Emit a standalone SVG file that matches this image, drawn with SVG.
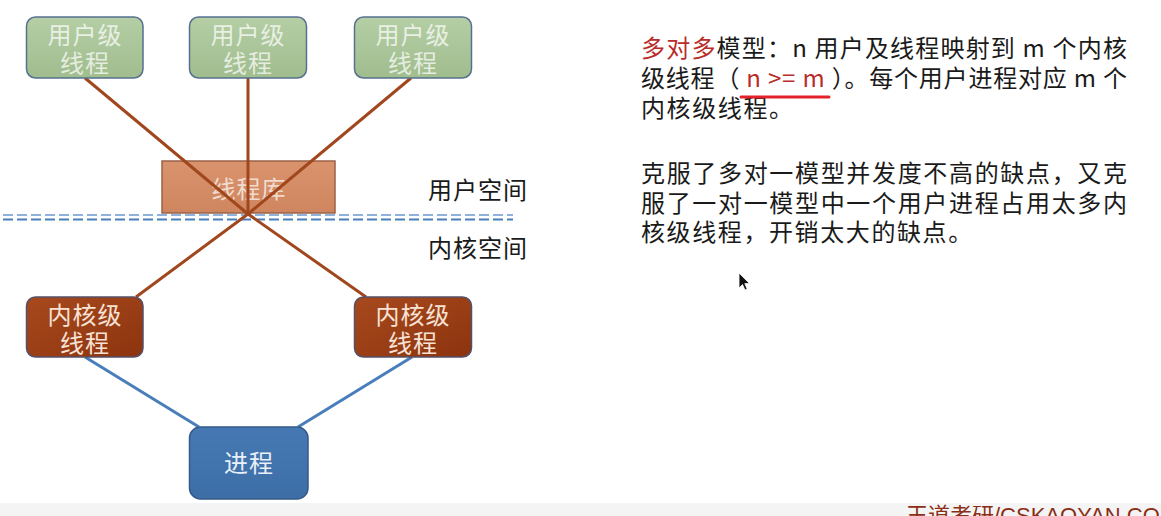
<svg xmlns="http://www.w3.org/2000/svg" width="1161" height="516" viewBox="0 0 1161 516">
  <style>
    .box-text { font-family: "Noto Sans CJK SC", "Noto Sans", sans-serif; font-size: 24px; text-anchor: middle; letter-spacing: 1px; }
    .green-text { fill: #ffffff; fill-opacity: 0.72; }
    .kernel-text { fill: #f8e2d6; }
    .proc-text { fill: #e9f0f8; }
    .label { font-family: "Noto Sans CJK SC", "Noto Sans", sans-serif; font-size: 24px; fill: #1a1a1a; letter-spacing: 1px; }
    .body { font-family: "Noto Sans CJK SC", "Noto Sans", sans-serif; font-size: 24px; fill: #1a1a1a; }
    .red { fill: #b82c2a; }
    .thread-line { stroke: #a0471d; stroke-width: 3; fill: none; }
    .proc-line { stroke: #4a7ebb; stroke-width: 3; fill: none; }
  </style>
  <defs>
    <linearGradient id="gGreen" x1="0" y1="0" x2="0" y2="1">
      <stop offset="0" stop-color="#b5cea5"/>
      <stop offset="1" stop-color="#a0bd8e"/>
    </linearGradient>
    <linearGradient id="gLib" x1="0" y1="0" x2="0" y2="1">
      <stop offset="0" stop-color="#d9936d"/>
      <stop offset="1" stop-color="#cf865f"/>
    </linearGradient>
    <linearGradient id="gKernel" x1="0" y1="0" x2="1" y2="1">
      <stop offset="0" stop-color="#a8491d"/>
      <stop offset="1" stop-color="#8c340f"/>
    </linearGradient>
    <linearGradient id="gProc" x1="0" y1="0" x2="0" y2="1">
      <stop offset="0" stop-color="#4679b3"/>
      <stop offset="1" stop-color="#3d6ea6"/>
    </linearGradient>
  </defs>

  <rect x="0" y="0" width="1161" height="516" fill="#ffffff"/>
  <rect x="0" y="503" width="1161" height="13" fill="#f4f4f4"/>

  <g id="thread-library">
    <rect x="162" y="161" width="173" height="52" fill="url(#gLib)" stroke="#9a6248" stroke-width="1.5"/>
    <text class="box-text" x="249" y="198" fill="#ffffff" fill-opacity="0.7">线程库</text>
  </g>

  <g id="boundary">
    <line x1="3" y1="215" x2="513" y2="215" stroke="#8fb2dc" stroke-width="2.2" stroke-dasharray="10 4"/>
    <line x1="3" y1="219.5" x2="513" y2="219.5" stroke="#4a7ebb" stroke-width="2.2" stroke-dasharray="10 4"/>
  </g>

  <g id="connectors">
    <line class="thread-line" x1="85" y1="78" x2="248" y2="214"/>
    <line class="thread-line" x1="248" y1="78" x2="248" y2="214"/>
    <line class="thread-line" x1="411" y1="78" x2="248" y2="214"/>
    <line class="thread-line" x1="248" y1="214" x2="136" y2="297"/>
    <line class="thread-line" x1="248" y1="214" x2="366" y2="297"/>
    <line class="proc-line" x1="85" y1="357" x2="199" y2="427"/>
    <line class="proc-line" x1="412" y1="357" x2="298" y2="427"/>
  </g>

  <g id="user-thread-1">
    <rect x="26.5" y="17" width="116.5" height="61" rx="9" fill="url(#gGreen)" stroke="#56708f" stroke-width="1.5"/>
    <text class="box-text green-text" x="85" y="44">用户级<tspan x="85" dy="28">线程</tspan></text>
  </g>
  <g id="user-thread-2">
    <rect x="189.5" y="17" width="117" height="61" rx="9" fill="url(#gGreen)" stroke="#56708f" stroke-width="1.5"/>
    <text class="box-text green-text" x="248" y="44">用户级<tspan x="248" dy="28">线程</tspan></text>
  </g>
  <g id="user-thread-3">
    <rect x="354.5" y="17" width="117" height="61" rx="9" fill="url(#gGreen)" stroke="#56708f" stroke-width="1.5"/>
    <text class="box-text green-text" x="413" y="44">用户级<tspan x="413" dy="28">线程</tspan></text>
  </g>

  <g id="kernel-thread-1">
    <rect x="26.5" y="297" width="116.5" height="60" rx="9" fill="url(#gKernel)" stroke="#55506a" stroke-width="1.5"/>
    <text class="box-text kernel-text" x="85" y="324">内核级<tspan x="85" dy="28">线程</tspan></text>
  </g>
  <g id="kernel-thread-2">
    <rect x="354.5" y="297" width="117" height="60" rx="9" fill="url(#gKernel)" stroke="#55506a" stroke-width="1.5"/>
    <text class="box-text kernel-text" x="413" y="324">内核级<tspan x="413" dy="28">线程</tspan></text>
  </g>

  <g id="process">
    <rect x="189.5" y="427" width="118.5" height="72" rx="11" fill="url(#gProc)" stroke="#34598a" stroke-width="1.5"/>
    <text class="box-text proc-text" x="249" y="472">进程</text>
  </g>

  <g id="space-labels">
    <text class="label" x="428" y="199">用户空间</text>
    <text class="label" x="428" y="257">内核空间</text>
  </g>

  <g id="description">
    <text class="body" x="641" y="56.5" textLength="486" lengthAdjust="spacing"><tspan class="red">多对多</tspan>模型：n 用户及线程映射到 m 个内核</text>
    <text class="body" x="641" y="87" textLength="486" lengthAdjust="spacing">级线程（ <tspan class="red">n &gt;= m</tspan> ）。每个用户进程对应 m 个</text>
    <text class="body" x="641" y="117" letter-spacing="1.6">内核级线程。</text>
    <line x1="741" y1="97" x2="829" y2="97" stroke="#e3222a" stroke-width="3" stroke-linecap="round"/>
    <text class="body" x="641" y="182" textLength="486" lengthAdjust="spacing">克服了多对一模型并发度不高的缺点，又克</text>
    <text class="body" x="641" y="212" textLength="486" lengthAdjust="spacing">服了一对一模型中一个用户进程占用太多内</text>
    <text class="body" x="641" y="241" letter-spacing="1.6">核级线程，开销太大的缺点。</text>
  </g>

  <g id="cursor">
    <path d="M739,273 L739,288 L742.5,284.5 L745,290 L747.2,289 L744.8,283.6 L749.5,283.6 Z" fill="#111111" stroke="#ffffff" stroke-width="0.8"/>
  </g>

  <text x="906" y="523" font-family="'Liberation Sans', 'Noto Sans CJK SC', sans-serif" font-size="22" fill="#8b2e16">王道考研/CSKAOYAN.COM</text>
</svg>
